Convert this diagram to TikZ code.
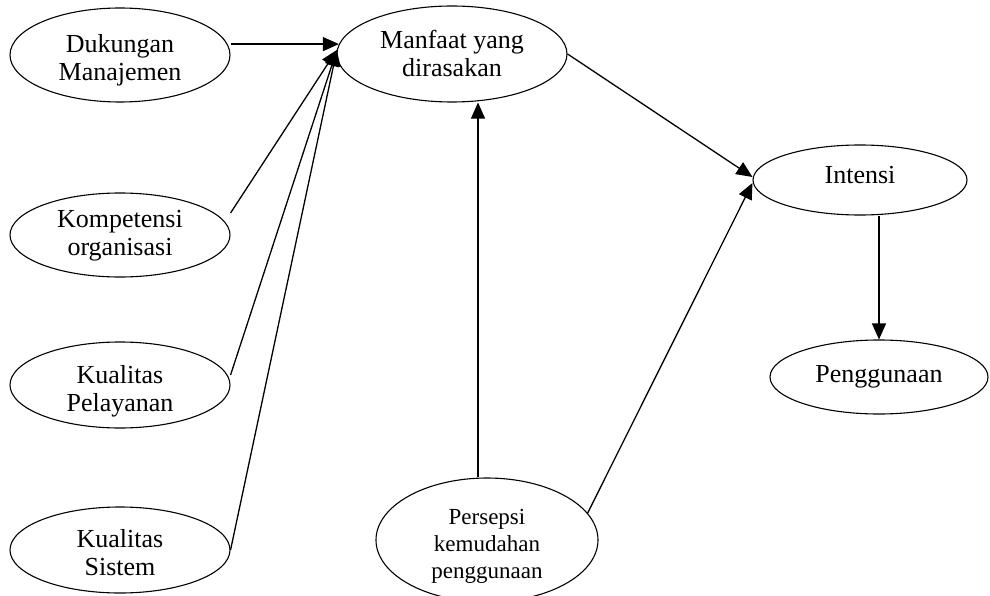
\documentclass[tikz,border=0pt]{standalone}
\usepackage{fontspec}
\setmainfont{Liberation Serif}
\usetikzlibrary{arrows.meta,shapes.geometric}
\newcommand\lowtext[2]{\raisebox{-#1}[\height][\depth]{\begin{tabular}{@{}c@{}}#2\end{tabular}}}
\begin{document}
\begin{tikzpicture}[x=1pt,y=-1pt,
  oval/.style={draw,ellipse,line width=1.1pt,inner sep=0pt,align=center,
    font=\fontsize{26}{28}\selectfont},
  arr/.style={line width=1.3pt,-{Triangle[length=16pt,width=14pt]}}]
\useasboundingbox (0,0) rectangle (990,596);
\node[oval,minimum width=220pt,minimum height=94pt] (dk) at (120,55) {\lowtext{6pt}{Dukungan\\Manajemen}};
\node[oval,minimum width=220pt,minimum height=84pt] (km) at (120,235) {\lowtext{1pt}{Kompetensi\\organisasi}};
\node[oval,minimum width=220pt,minimum height=86pt] (kp) at (120,385) {\lowtext{7pt}{Kualitas\\Pelayanan}};
\node[oval,minimum width=220pt,minimum height=86pt] (ks) at (120,550) {\lowtext{6pt}{Kualitas\\Sistem}};
\node[oval,minimum width=230pt,minimum height=96pt] (mf) at (452,54) {\lowtext{3pt}{Manfaat yang\\dirasakan}};
\node[oval,minimum width=214pt,minimum height=70pt] (in) at (860,180) {\lowtext{-2pt}{Intensi}};
\node[oval,minimum width=218pt,minimum height=74pt] (pg) at (879,377) {Penggunaan};
\node[oval,minimum width=222pt,minimum height=124pt,font=\fontsize{23}{27}\selectfont] (ps) at (487,540) {\lowtext{6pt}{Persepsi\\kemudahan\\penggunaan}};
\draw[arr] (dk.east |- mf.175) -- (mf.175);
\draw[arr] ([yshift=22pt]km.east) -- (mf.178);
\draw[arr] ([yshift=10pt]kp.east) -- (mf.178);
\draw[arr] (ks.east) -- (mf.178);
\draw[arr] (mf.east) -- ([yshift=3pt]in.west);
\draw[arr] ([xshift=-9pt]ps.north) -- ([xshift=-9pt]ps.north |- mf.south);
\draw[arr] (ps.15) -- ([yshift=-3pt]in.west);
\draw[arr] (pg.north |- in.south) -- (pg.north);
\end{tikzpicture}
\end{document}
